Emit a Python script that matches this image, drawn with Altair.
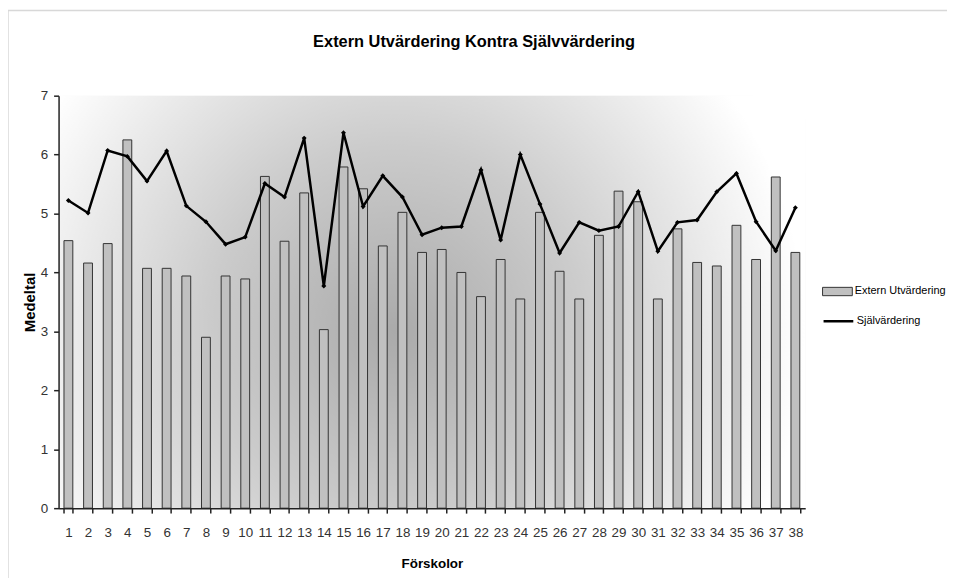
import altair as alt
import pandas as pd

categories = [str(i) for i in range(1, 39)]
extern_utv = [4.54, 4.16, 4.49, 6.25, 4.07, 4.07, 3.94, 2.90, 3.94, 3.89,
              5.63, 4.53, 5.35, 3.03, 5.79, 5.42, 4.45, 5.02, 4.34, 4.39,
              4.00, 3.59, 4.22, 3.55, 5.02, 4.02, 3.55, 4.63, 5.38, 5.20,
              3.55, 4.74, 4.17, 4.11, 4.80, 4.22, 5.62, 4.34]
sjalv = [5.22, 5.01, 6.07, 5.97, 5.55, 6.06, 5.13, 4.86, 4.48, 4.60,
         5.51, 5.28, 6.28, 3.77, 6.37, 5.12, 5.64, 5.28, 4.64, 4.76,
         4.78, 5.74, 4.55, 6.00, 5.16, 4.33, 4.85, 4.71, 4.78, 5.37,
         4.36, 4.85, 4.89, 5.37, 5.68, 4.86, 4.37, 5.10]
series_names = ["Extern Utvärdering", "Självärdering"]
title_text = "Extern Utvärdering Kontra Självvärdering"
y_ticks = [0, 1, 2, 3, 4, 5, 6, 7]

FONT = "Liberation Sans"
W, H = 753, 416

df = pd.DataFrame({
    "cat": categories,
    "ext": extern_utv,
    "self": sjalv,
    "s1": series_names[0],
    "s2": series_names[1],
})
one = pd.DataFrame({"a": [0]})

x_enc = alt.X("cat:N", sort=categories,
              scale=alt.Scale(paddingInner=0.55, paddingOuter=0.275),
              axis=alt.Axis(title="Förskolor", labelAngle=0, tickBand="extent",
                            tickSize=5, labelPadding=13, labelFontSize=13.5,
                            titleFontSize=13.5, titlePadding=17, zindex=1))
y_scale = alt.Scale(domain=[0, 7], nice=False)

frame = alt.Chart(one).mark_rect(fill="transparent", stroke="#d8d8d8", strokeWidth=1.5).encode(
    x=alt.value(-51), x2=alt.value(900), y=alt.value(-86), y2=alt.value(600))

bg = alt.Chart(one).mark_rect(
    fill=alt.RadialGradient(
        gradient="radial",
        stops=[alt.GradientStop(offset=0, color="#aaaaaa"),
               alt.GradientStop(offset=0.45, color="#cbcbcb"),
               alt.GradientStop(offset=1, color="#ffffff")],
        x1=0.45, y1=0.54, r1=0, x2=0.45, y2=0.54, r2=0.55)
).encode(x=alt.value(0), x2=alt.value(W), y=alt.value(0), y2=alt.value(H))

bars = alt.Chart(df).mark_bar(stroke="#333333", strokeWidth=1).encode(
    x=x_enc,
    y=alt.Y("ext:Q", scale=y_scale,
            axis=alt.Axis(title="Medeltal", values=y_ticks, format="d", tickSize=5,
                          labelPadding=6, labelFontSize=13.5, titleFontSize=15, grid=False,
                          titleX=-29, titleY=H / 2, titleAngle=270,
                          titleBaseline="middle", zindex=1)),
    fill=alt.Fill("s1:N", scale=alt.Scale(domain=[series_names[0]], range=["#c0c0c0"]),
                  legend=alt.Legend(orient="none", legendX=770, legendY=182, title=None,
                                    symbolType="M-1,-0.28H1V0.28H-1Z", symbolSize=900,
                                    symbolStrokeColor="#333333", symbolStrokeWidth=1,
                                    labelFont=FONT, labelFontSize=11, labelColor="black",
                                    padding=0, labelOffset=2, labelLimit=200)),
)

line = alt.Chart(df).mark_line(strokeWidth=2.5).encode(
    x=alt.X("cat:N", sort=categories),
    y=alt.Y("self:Q", scale=y_scale),
    stroke=alt.Stroke("s2:N", scale=alt.Scale(domain=[series_names[1]], range=["black"]),
                      legend=alt.Legend(orient="none", legendX=770, legendY=211, title=None,
                                        symbolType="stroke", symbolSize=900,
                                        symbolStrokeWidth=2.5,
                                        labelFont=FONT, labelFontSize=11, labelColor="black",
                                        padding=0, labelOffset=2)),
)

pts = alt.Chart(df).mark_point(shape="diamond", filled=True, color="black", size=25, opacity=1).encode(
    x=alt.X("cat:N", sort=categories),
    y=alt.Y("self:Q", scale=y_scale),
)

title = alt.Chart(one).mark_text(text=title_text, font=FONT, fontSize=16.5, fontWeight="bold",
                                 color="black", align="center", baseline="middle").encode(
    x=alt.value(419), y=alt.value(-54))

chart = alt.layer(frame, bg, bars, line, pts, title).resolve_scale(
    fill="independent", stroke="independent"
).properties(
    width=W, height=H,
    autosize=alt.AutoSizeParams(type="none"),
    padding={"left": 51, "top": 86, "right": 143, "bottom": 68},
).configure_view(stroke=None).configure_axis(
    labelFont=FONT, titleFont=FONT, labelColor="#333333", titleColor="black",
    domainColor="#222222", domainWidth=1.5, tickColor="#222222", tickWidth=1.5,
    titleFontWeight="bold", zindex=1,
)

chart.save("out.html", embed_options={"renderer": "svg", "actions": False})
